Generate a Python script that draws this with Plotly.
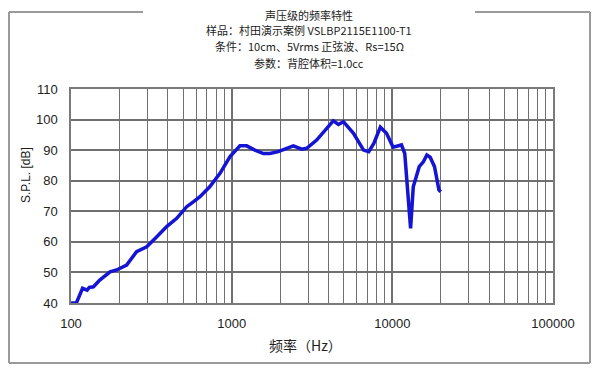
import plotly.graph_objects as go

# ---- data ----
freq_hz = [100, 108, 118, 126, 130, 138, 151, 175, 192, 222, 256, 296, 342, 394, 455,
           525, 577, 635, 730, 846, 977, 1126, 1240, 1395, 1576, 1730, 1950, 2200, 2420,
           2730, 2930, 3380, 3900, 4290, 4620, 4960, 5730, 6620, 7130, 7670, 8420, 9200,
           10100, 11400, 11950, 12990, 13500, 14700, 15600, 16400, 17200, 18300, 19500, 20000]
spl_db = [40, 40, 44.8, 44.2, 45.1, 45.3, 47.5, 50.2, 50.8, 52.4, 56.8, 58.4, 61.7, 65,
          67.7, 71.5, 73.1, 74.8, 78, 82.4, 87.9, 91.4, 91.4, 90, 88.9, 88.9, 89.5, 90.6,
          91.4, 90.3, 90.6, 93.3, 97.1, 99.6, 98.4, 99.3, 95.5, 90, 89.5, 92.2, 97.5, 95.5,
          91, 91.7, 88.9, 64.4, 78, 84.6, 86.2, 88.4, 87.7, 84.6, 77, 76.4]

x_ticks = [100, 1000, 10000, 100000]
x_tick_labels = ["100", "1000", "10000", "100000"]
y_ticks = [40, 50, 60, 70, 80, 90, 100, 110]

title_lines = ["声压级的频率特性",
               "样品：村田演示案例 VSLBP2115E1100-T1",
               "条件：10cm、5Vrms 正弦波、Rs=15Ω",
               "参数：背腔体积=1.0cc"]
x_title = "频率（Hz）"
y_title = "S.P.L. [dB]"

# ---- layout geometry (page pixels; page body has an 8px margin) ----
OFF = 8
W, H = 600 - OFF, 375 - OFF
L, R, T, B = 71 - OFF, 553 - OFF, 89 - OFF, 303 - OFF


def px_x(p):
    return (p - OFF - L) / (R - L)


def px_y(p):
    return (B - (p - OFF)) / (B - T)


fig = go.Figure()
fig.add_trace(go.Scatter(x=freq_hz, y=spl_db, mode="lines",
                         line=dict(color="#1414d2", width=3.5),
                         showlegend=False, hoverinfo="skip"))

grid_col = "#707070"
tick_font = dict(family="Liberation Sans, Arial, sans-serif", size=13, color="#222")

fig.update_layout(
    width=W, height=H,
    margin=dict(l=L, r=W - R, t=T, b=H - B, autoexpand=False),
    paper_bgcolor="white", plot_bgcolor="white",
    xaxis=dict(type="log", range=[2, 5], tickvals=x_ticks, ticktext=x_tick_labels,
               showgrid=True, gridcolor=grid_col, gridwidth=1.5,
               minor=dict(dtick="D1", showgrid=True, gridcolor=grid_col, gridwidth=1.3),
               showline=True, linecolor="#7a7a7a", linewidth=1.5, mirror=True,
               ticks="", tickfont=tick_font, ticklabelstandoff=8, zeroline=False),
    yaxis=dict(range=[40, 110], tickvals=y_ticks,
               showgrid=True, gridcolor=grid_col, gridwidth=1.5,
               showline=True, linecolor="#7a7a7a", linewidth=1.5, mirror=True,
               ticks="", tickfont=tick_font, ticklabelstandoff=9, zeroline=False),
)

# outer frame (group box) with gap at the title
frame = dict(color="#9a9a9a", width=2)
x0, x1 = px_x(9), px_x(590)
y0, y1 = px_y(363), px_y(12)
for (a, b, c, d) in [(x0, y1, px_x(143), y1), (px_x(475), y1, x1, y1),
                     (x0, y1, x0, y0), (x1, y1, x1, y0), (x0, y0, x1, y0)]:
    fig.add_shape(type="line", xref="paper", yref="paper", x0=a, y0=b, x1=c, y1=d,
                  line=frame, layer="below")

title_font = dict(family="Noto Sans CJK SC, sans-serif", size=11, color="#222")
title_y_px = [15, 30, 46, 63]
for txt, ty in zip(title_lines, title_y_px):
    fig.add_annotation(text=txt, x=px_x(309), y=px_y(ty), xref="paper", yref="paper",
                       xanchor="center", yanchor="middle", showarrow=False, font=title_font)

fig.add_annotation(text=x_title, x=px_x(305), y=px_y(345), xref="paper", yref="paper",
                   xanchor="center", yanchor="middle", showarrow=False,
                   font=dict(family="Noto Sans CJK SC, sans-serif", size=14, color="#222"))
fig.add_annotation(text=y_title, x=px_x(26), y=px_y(175), xref="paper", yref="paper",
                   xanchor="center", yanchor="middle", showarrow=False, textangle=-90,
                   font=dict(family="Liberation Sans, Arial, sans-serif", size=12, color="#222"))

fig.write_html("out.html")
